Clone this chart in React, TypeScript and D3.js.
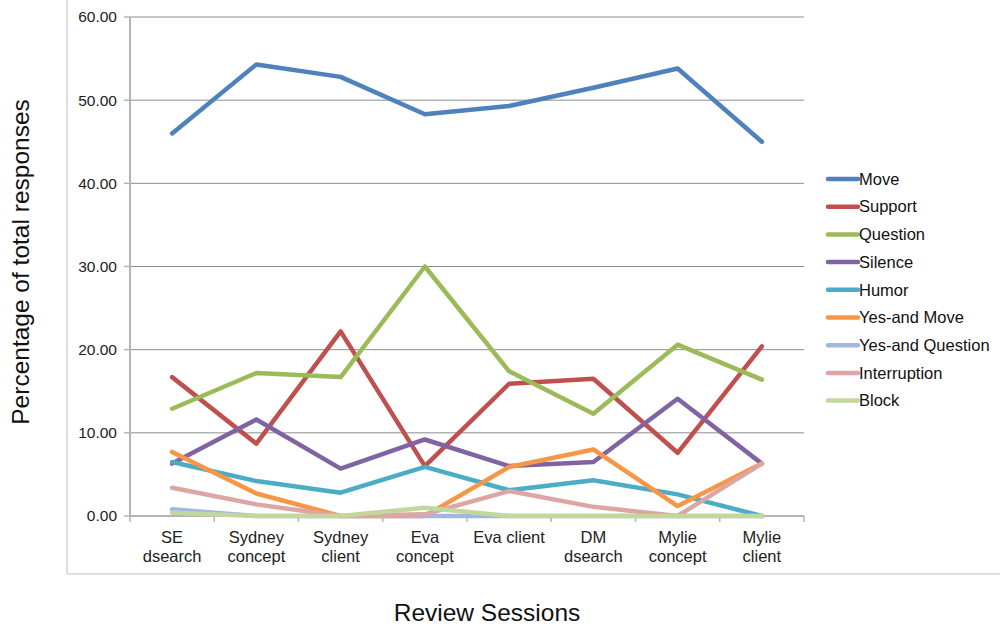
import React from "react";
import * as d3 from "d3";

const categories = [
  ["SE", "dsearch"],
  ["Sydney", "concept"],
  ["Sydney", "client"],
  ["Eva", "concept"],
  ["Eva client"],
  ["DM", "dsearch"],
  ["Mylie", "concept"],
  ["Mylie", "client"],
];

const seriesNames = ["Move", "Support", "Question", "Silence", "Humor", "Yes-and Move", "Yes-and Question", "Interruption", "Block"];
const seriesColors = ["#4F81BD", "#C0504D", "#9BBB59", "#8064A2", "#4BACC6", "#F79646", "#A0B8DD", "#DDA5A4", "#C2D79C"];

const move = [46.0, 54.3, 52.8, 48.3, 49.3, 51.5, 53.8, 45.0];
const support = [16.7, 8.7, 22.2, 6.0, 15.9, 16.5, 7.6, 20.4];
const question = [12.9, 17.2, 16.7, 30.0, 17.4, 12.3, 20.6, 16.4];
const silence = [6.3, 11.6, 5.7, 9.2, 6.0, 6.5, 14.1, 6.3];
const humor = [6.5, 4.2, 2.8, 5.9, 3.1, 4.3, 2.6, 0.0];
const yesAndMove = [7.7, 2.7, 0.0, 0.0, 5.9, 8.0, 1.2, 6.3];
const yesAndQuestion = [0.8, 0.0, 0.0, 0.0, 0.0, 0.0, 0.0, 0.0];
const interruption = [3.4, 1.4, 0.0, 0.2, 3.0, 1.1, 0.0, 6.3];
const block = [0.4, 0.0, 0.0, 1.0, 0.0, 0.0, 0.0, 0.0];

const seriesValues = [move, support, question, silence, humor, yesAndMove, yesAndQuestion, interruption, block];
const yTicks = [0, 10, 20, 30, 40, 50, 60];

const FONT = "'Liberation Sans', Arial, Helvetica, sans-serif";

export default function App() {
  const W = 1000, H = 627;
  const left = 130, right = 804, top = 17, bottom = 516;
  const x = d3.scaleBand<number>().domain(d3.range(categories.length)).range([left, right]);
  const y = d3.scaleLinear().domain([0, 60]).range([bottom, top]);
  const line = d3.line<number>()
    .x((_, i) => (x(i) as number) + x.bandwidth() / 2)
    .y((v) => y(v));

  const legendX = 828, legendY0 = 179, legendStep = 27.7;

  return (
    <svg width={W} height={H} style={{ position: "absolute", left: 0, top: 0, background: "#fff" }}>
      <rect x={0} y={0} width={W} height={H} fill="#fff" />
      {/* outer frame */}
      <line x1={67} y1={0} x2={67} y2={574} stroke="#d4d4d4" strokeWidth={1.5} />
      <line x1={67} y1={574} x2={1000} y2={574} stroke="#d4d4d4" strokeWidth={1.5} />
      {/* gridlines */}
      {yTicks.filter((t) => t > 0).map((t) => (
        <line key={t} x1={left} x2={right} y1={y(t)} y2={y(t)} stroke="#8c8c8c" strokeWidth={1} />
      ))}
      {/* y axis */}
      <line x1={left} x2={left} y1={top} y2={bottom} stroke="#b4b4b4" strokeWidth={2} />
      {yTicks.map((t) => (
        <g key={t}>
          <line x1={left - 6} x2={left} y1={y(t)} y2={y(t)} stroke="#b4b4b4" strokeWidth={1.5} />
          <text x={117} y={y(t)} dy="0.35em" textAnchor="end" fontFamily={FONT} fontSize={15.5} fill="#222">
            {t.toFixed(2)}
          </text>
        </g>
      ))}
      {/* x axis */}
      <line x1={left} x2={right} y1={bottom} y2={bottom} stroke="#b4b4b4" strokeWidth={2} />
      {d3.range(categories.length + 1).map((i) => {
        const xx = left + i * x.step();
        return <line key={i} x1={xx} x2={xx} y1={bottom} y2={bottom + 6} stroke="#b4b4b4" strokeWidth={1.5} />;
      })}
      {categories.map((lines, i) => (
        <text key={i} textAnchor="middle" fontFamily={FONT} fontSize={16.5} fill="#222">
          {lines.map((l, j) => (
            <tspan key={j} x={(x(i) as number) + x.bandwidth() / 2} y={543 + j * 19}>{l}</tspan>
          ))}
        </text>
      ))}
      {/* series */}
      {seriesValues.map((vals, s) => (
        <path key={s} d={line(vals) || ""} fill="none" stroke={seriesColors[s]} strokeWidth={4.5}
          strokeLinejoin="round" strokeLinecap="round" />
      ))}
      {/* legend */}
      {seriesNames.map((n, s) => (
        <g key={n}>
          <line x1={legendX} x2={legendX + 30} y1={legendY0 + s * legendStep} y2={legendY0 + s * legendStep}
            stroke={seriesColors[s]} strokeWidth={4.5} strokeLinecap="round" />
          <text x={legendX + 31} y={legendY0 + s * legendStep} dy="0.35em" fontFamily={FONT} fontSize={16.5} fill="#111">
            {n}
          </text>
        </g>
      ))}
      {/* axis titles */}
      <text transform="translate(29,262) rotate(-90)" textAnchor="middle" fontFamily={FONT} fontSize={24.5} fill="#111">
        Percentage of total responses
      </text>
      <text x={487} y={621} textAnchor="middle" fontFamily={FONT} fontSize={24.5} fill="#111">
        Review Sessions
      </text>
    </svg>
  );
}
